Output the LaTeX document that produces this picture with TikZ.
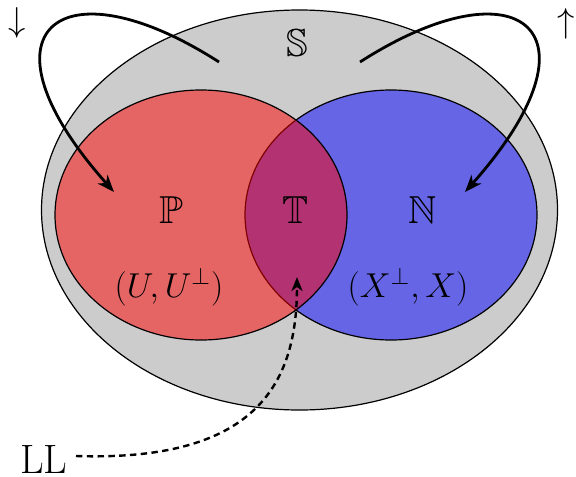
\documentclass[tikz,border=0pt]{standalone}
\usepackage{amssymb}
\usetikzlibrary{shapes.geometric,arrows.meta}
\tikzset{
  setshape/.style={ellipse,draw=black,line width=0.6pt,inner sep=0pt},
  bigletter/.style={inner sep=0pt,font=\fontsize{19.5}{23}\selectfont},
  lllabel/.style={inner sep=0pt,font=\fontsize{20.5}{24}\selectfont},
  pairlabel/.style={inner sep=0pt,font=\fontsize{16.5}{20}\selectfont},
  arrowsym/.style={inner sep=0pt,font=\fontsize{17}{20}\selectfont},
  looparrow/.style={line width=1.4pt,-{Stealth[length=8.5pt,width=6.5pt,inset=2.5pt]}},
  dasharrow/.style={line width=1.2pt,dash pattern=on 3.2pt off 2.2pt,-{Stealth[length=7pt,width=5.5pt,inset=2pt]}}
}
\begin{document}
\begin{tikzpicture}[x=0.5pt,y=-0.5pt]
\useasboundingbox (0,0) rectangle (576,476);
% sets
\node[setshape,fill=gray!40,minimum width=258pt,minimum height=200pt] (S) at (299.5,210) {};
\node[setshape,fill=blue,fill opacity=0.5,draw opacity=1,minimum width=146pt,minimum height=125pt] (Nset) at (391,215) {};
\node[setshape,fill=red,fill opacity=0.5,draw opacity=1,minimum width=146pt,minimum height=125pt] (Pset) at (201,215) {};
% labels
\node[bigletter] (Slab) at (297,43) {$\mathbb{S}$};
\node[bigletter] (Plab) at (171,210) {$\mathbb{P}$};
\node[bigletter] (Tlab) at (295,210) {$\mathbb{T}$};
\node[bigletter] (Nlab) at (423,210) {$\mathbb{N}$};
\node[pairlabel] (Ulab) at (169,287) {$(U,U^{\perp})$};
\node[pairlabel] (Xlab) at (408,287) {$(X^{\perp},X)$};
\node[arrowsym] (down) at (17,23) {$\downarrow$};
\node[arrowsym] (up) at (566,24) {$\uparrow$};
\node[lllabel,anchor=east] (LL) at (68,459) {LL};
% connector points
\coordinate (ls) at (219,62);
\coordinate (lt) at (114,192);
\coordinate (rs) at (360,62);
\coordinate (rt) at (465,192);
\coordinate (tt) at (297,277);
\draw[looparrow] (ls) .. controls (60,-40) and (-30,30) .. (lt);
\draw[looparrow] (rs) .. controls (519,-40) and (609,30) .. (rt);
\draw[dasharrow] ([xshift=4pt,yshift=1.5pt]LL.east) .. controls (260,462) and (297,380) .. (tt);
\end{tikzpicture}
\end{document}
